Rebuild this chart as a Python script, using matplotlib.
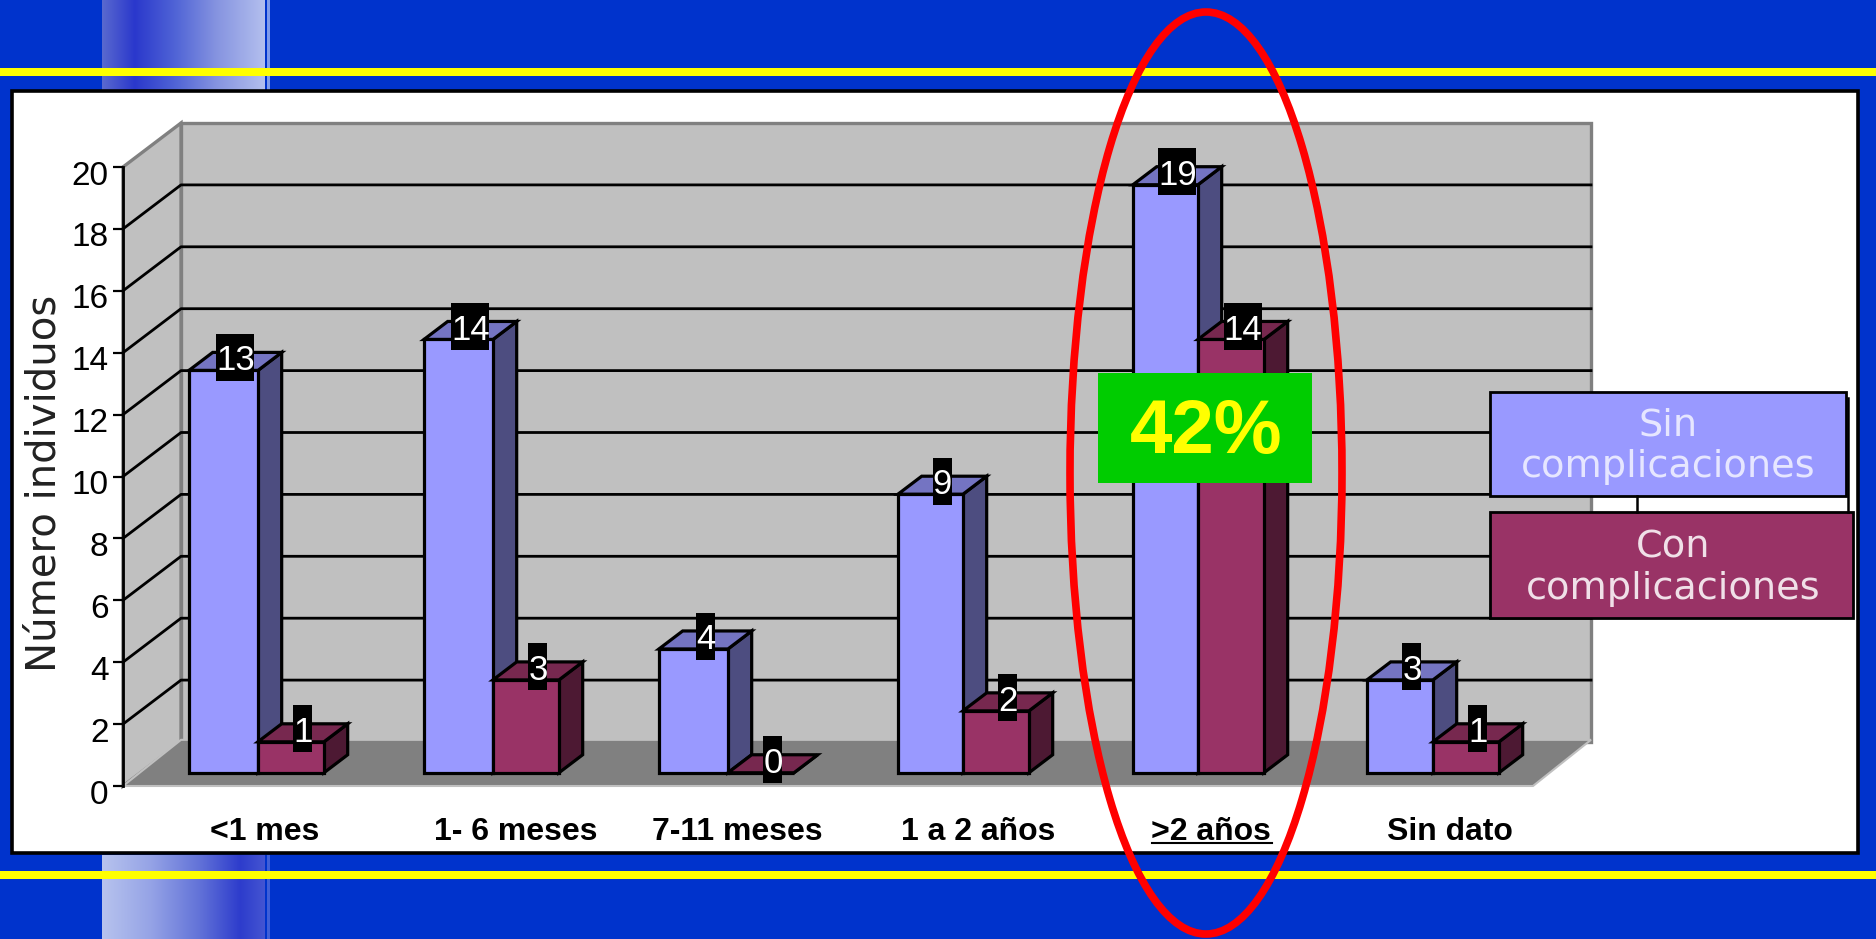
import numpy as np
import matplotlib
matplotlib.use('Agg')
import matplotlib.pyplot as plt
from matplotlib.colors import LinearSegmentedColormap
from matplotlib.patches import Ellipse, Polygon, Rectangle
from matplotlib.transforms import ScaledTranslation

# data
categorias = ['<1 mes', '1- 6 meses', '7-11 meses', '1 a 2 años', '>2 años', 'Sin dato']
sin_compl = [13, 14, 4, 9, 19, 3]
con_compl = [1, 3, 0, 2, 14, 1]
ticks_y = list(range(0, 21, 2))

W, H = 1876, 939
plt.rcParams['font.family'] = ['Liberation Sans', 'DejaVu Sans']

AZUL = '#0033CC'
AMARILLO = '#FFFF00'
fig = plt.figure(figsize=(W / 100, H / 100), dpi=100, facecolor=AZUL)

# fondo de la diapositiva, en pixeles
fondo = fig.add_axes([0, 0, 1, 1], zorder=0)
fondo.set_xlim(0, W)
fondo.set_ylim(H, 0)
fondo.axis('off')

cmap_sup = LinearSegmentedColormap.from_list('sup', [(0, '#5A69CF'), (0.2, '#2A38CC'), (0.45, '#5064D6'),
                                                     (0.7, '#8593E0'), (1, '#B3BFEE')])
cmap_inf = LinearSegmentedColormap.from_list('inf', [(0, '#B7C3EE'), (0.3, '#95A3E6'), (0.6, '#6272D8'),
                                                     (0.85, '#2D3CCC'), (1, '#4455D2')])
grad = np.linspace(0, 1, 256).reshape(1, -1)
fondo.imshow(grad, cmap=cmap_sup, extent=(102, 265, 90, 0), aspect='auto')
fondo.imshow(grad, cmap=cmap_inf, extent=(102, 265, 939, 855), aspect='auto')
fondo.set_xlim(0, W)
fondo.set_ylim(H, 0)
fondo.add_patch(Rectangle((267, 0), 3, 90, fc='#7F9BEA', ec='none'))
fondo.add_patch(Rectangle((267, 855), 3, 84, fc='#3F5FD8', ec='none'))
fondo.add_patch(Rectangle((0, 68), W, 8, fc=AMARILLO, ec='none'))
fondo.add_patch(Rectangle((0, 871), W, 8, fc=AMARILLO, ec='none'))
fondo.add_patch(Rectangle((11.5, 90.5), 1846, 762, fc='white', ec='black', lw=2.6))

# grafico: eje delantero del 3D
x0, x1, y0, y20 = 123, 1533, 786, 167
ax = fig.add_axes([x0 / W, 1 - y0 / H, (x1 - x0) / W, (y0 - y20) / H], zorder=1)
ax.patch.set_alpha(0)
ax.set_xlim(-0.5, 5.5)
ax.set_ylim(0, 20)

PX = 6 / (x1 - x0)
PY = 20 / (y0 - y20)
DX = 58 * PX
DY = 44 * PY
D1, D2 = 0.30, 0.71


def prof(x, v, d):
    # punto desplazado hacia el fondo, d=0 delante, d=1 pared trasera
    return (x + d * DX, v + d * DY)


GRIS_PARED = '#C0C0C0'
GRIS_SUELO = '#808080'
xi, xf = -0.5, 5.5
ax.add_patch(Polygon([prof(xi, 0, 1), prof(xf, 0, 1), prof(xf, 20, 1), prof(xi, 20, 1)],
                     fc=GRIS_PARED, ec=GRIS_SUELO, lw=2.4, clip_on=False, zorder=1))
ax.add_patch(Polygon([prof(xi, 0, 0), prof(xi, 0, 1), prof(xi, 20, 1), prof(xi, 20, 0)],
                     fc=GRIS_PARED, ec=GRIS_SUELO, lw=2.4, clip_on=False, zorder=1))
for v in ticks_y[1:-1]:
    px, py = zip(prof(xi, v, 0), prof(xi, v, 1), prof(xf, v, 1))
    ax.plot(px, py, color='black', lw=2, clip_on=False, zorder=2)
ax.add_patch(Polygon([prof(xi, 0, 0), prof(xf, 0, 0), prof(xf, 0.07, 1), prof(xi, 0.07, 1)],
                     fc=GRIS_SUELO, ec=GRIS_PARED, lw=1.5, clip_on=False, zorder=3))


def barra(x, ancho, v, frente, arriba, lado):
    ax.add_patch(Polygon([prof(x + ancho, 0, D1), prof(x + ancho, 0, D2), prof(x + ancho, v, D2), prof(x + ancho, v, D1)],
                         fc=lado, ec='black', lw=2.3, joinstyle='miter', clip_on=False, zorder=4))
    ax.add_patch(Polygon([prof(x, v, D1), prof(x + ancho, v, D1), prof(x + ancho, v, D2), prof(x, v, D2)],
                         fc=arriba, ec='black', lw=2.3, joinstyle='miter', clip_on=False, zorder=4))
    ax.add_patch(Rectangle(prof(x, 0, D1), ancho, v, fc=frente, ec='black', lw=2.3, clip_on=False, zorder=4))


def etiqueta(x, v, n):
    # la etiqueta va sobre la cara superior de la barra
    fx, fy = prof(x, v, D1)
    cx = fx + 12 * PX
    cy = fy + 13 * PY
    w = len(str(n)) * 19 * PX
    h = 47 * PY
    ax.add_patch(Rectangle((cx - w / 2, cy - h / 2), w, h, fc='black', ec='none', clip_on=False, zorder=6))
    ax.text(cx, cy, str(n), color='white', fontsize=25, ha='center', va='center_baseline', zorder=7)


centros = np.arange(len(categorias))
anchos_a = np.array([69, 69, 69, 65, 65, 66]) * PX
ancho_c = 66 * PX
for c, ancho_a, a, b in zip(centros, anchos_a, sin_compl, con_compl):
    barra(c - ancho_a, ancho_a, a, '#9999FF', '#7474C2', '#4D4D80')
    barra(c, ancho_c, b, '#993366', '#77284F', '#4D1933')
for c, ancho_a, a, b in zip(centros, anchos_a, sin_compl, con_compl):
    etiqueta(c - ancho_a / 2, a, a)
    etiqueta(c + ancho_c / 2, b, b)

ax.set_xticks([])
ax.set_yticks(ticks_y)
ax.tick_params(axis='y', length=7.5, width=1.6, pad=3, labelsize=24)
baja = ScaledTranslation(0, -4 / 72, fig.dpi_scale_trans)
for lab in ax.get_yticklabels():
    lab.set_transform(lab.get_transform() + baja)
for s in ['top', 'right', 'bottom']:
    ax.spines[s].set_visible(False)
ax.spines['left'].set_linewidth(2)
ax.spines['left'].set_zorder(3.5)

# capa de encima, otra vez en pixeles
sobre = fig.add_axes([0, 0, 1, 1], zorder=2)
sobre.patch.set_alpha(0)
sobre.set_xlim(0, W)
sobre.set_ylim(H, 0)
sobre.axis('off')

sobre.text(45, 483, 'Número individuos', rotation=90, fontsize=29, family='DejaVu Sans',
           color='#222222', ha='center', va='center')

pos_cat = [265, 516, 737, 978, 1211, 1450]
for p, cat in zip(pos_cat, categorias):
    sobre.text(p, 832, cat, fontsize=23, fontweight='bold', ha='center', va='center', color='black')
sobre.plot([1152, 1272], [843, 843], color='black', lw=1.5)

# leyenda
sobre.plot([1637, 1637], [496, 512], color='black', lw=1.8)
sobre.plot([1848, 1848], [398, 512], color='black', lw=1.8)
sobre.add_patch(Rectangle((1490, 392), 356, 104, fc='#9999FF', ec='black', lw=2))
sobre.add_patch(Rectangle((1490, 512), 363, 106, fc='#993366', ec='black', lw=2))
for cx, cy, txt, col in [(1668, 426, 'Sin', '#E6E6FF'), (1668, 467, 'complicaciones', '#E6E6FF'),
                         (1673, 547, 'Con', '#F0E0E8'), (1673, 589, 'complicaciones', '#F0E0E8')]:
    sobre.text(cx, cy, txt, color=col, fontsize=27.5, family='DejaVu Sans', ha='center', va='center')

# recuadro 42% y elipse
sobre.add_patch(Rectangle((1098, 373), 214, 110, fc='#00CC00', ec='none'))
sobre.text(1206, 433, '42%', color=AMARILLO, fontsize=55, fontweight='bold', ha='center', va='center')
sobre.add_patch(Ellipse((1206, 473), 272, 922, fc='none', ec='#FF0000', lw=5.5, clip_on=False))

fig.savefig('out.png', dpi=100, facecolor=AZUL)
